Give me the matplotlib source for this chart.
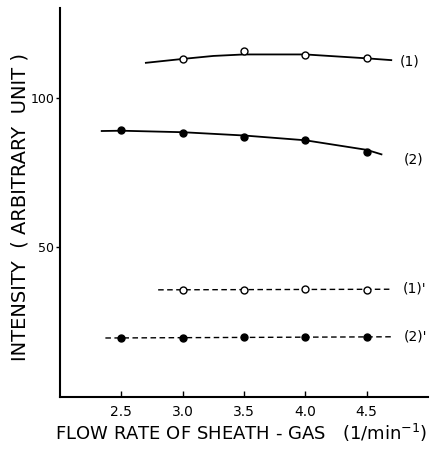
import matplotlib
matplotlib.use("Agg")
import matplotlib.pyplot as plt

# measured points
pts_x1 = [3.0, 3.5, 4.0, 4.5]
pts_y1 = [113.0, 115.7, 114.3, 113.3]
pts_x2 = [2.5, 3.0, 3.5, 4.0, 4.5]
pts_y2 = [89.2, 88.1, 86.8, 85.8, 82.0]
pts_x1p = [3.0, 3.5, 4.0, 4.5]
pts_y1p = [35.7, 35.9, 36.2, 35.9]
pts_x2p = [2.5, 3.0, 3.5, 4.0, 4.5]
pts_y2p = [19.6, 19.6, 20.1, 20.1, 20.1]

# hand-drawn curves
crv_x1 = [2.7, 3.0, 3.25, 3.5, 4.0, 4.5, 4.7]
crv_y1 = [111.7, 113.0, 114.0, 114.5, 114.5, 113.2, 112.6]
crv_x2 = [2.34, 2.5, 3.0, 3.5, 4.0, 4.5, 4.62]
crv_y2 = [88.9, 89.0, 88.5, 87.4, 85.8, 82.6, 81.1]
crv_x1p = [2.8, 4.7]
crv_y1p = [35.8, 36.0]
crv_x2p = [2.37, 4.7]
crv_y2p = [19.7, 20.1]

xticks = [2.5, 3.0, 3.5, 4.0, 4.5]
yticks = [50, 100]

fig = plt.figure(figsize=(4.30, 4.49), dpi=100)
ax = fig.add_axes([0.1395, 0.116, 0.856, 0.866])

lw = 1.3
ax.plot(crv_x1, crv_y1, color="black", lw=lw)
ax.plot(crv_x2, crv_y2, color="black", lw=lw)
ax.plot(crv_x1p, crv_y1p, color="black", lw=1.0, dashes=(4, 2.5))
ax.plot(crv_x2p, crv_y2p, color="black", lw=1.0, dashes=(4, 2.5))

ax.plot(pts_x1, pts_y1, "o", ms=5, mfc="white", mec="black", mew=1.0)
ax.plot(pts_x2, pts_y2, "o", ms=5, mfc="black", mec="black")
ax.plot(pts_x1p, pts_y1p, "o", ms=5, mfc="white", mec="black", mew=1.0)
ax.plot(pts_x2p, pts_y2p, "o", ms=5, mfc="black", mec="black")

lab = dict(fontsize=10, va="center", ha="left")
ax.text(4.77, 112.2, "(1)", **lab)
ax.text(4.80, 79.5, "(2)", **lab)
ax.text(4.79, 36.3, "(1)'", **lab)
ax.text(4.80, 20.1, "(2)'", **lab)

ax.set_xlim(2.0, 5.0)
ax.set_ylim(0, 130)
ax.set_xticks(xticks)
ax.set_xticklabels(["2.5", "3.0", "3.5", "4.0", "4.5"])
ax.set_yticks(yticks)
ax.tick_params(axis="x", direction="in", length=4, width=1, labelsize=10, pad=6)
ax.tick_params(axis="y", direction="out", length=3, width=1, labelsize=9, pad=1)

ax.spines["top"].set_visible(False)
ax.spines["right"].set_visible(False)
ax.spines["left"].set_linewidth(1.5)
ax.spines["bottom"].set_linewidth(1.5)

fig.text(0.561, 0.035, "FLOW RATE OF SHEATH - GAS   (1/min$^{-1}$)",
         ha="center", va="center", fontsize=13)
fig.text(0.046, 0.54, "INTENSITY  ( ARBITRARY  UNIT )", rotation=90,
         ha="center", va="center", fontsize=14)

fig.savefig("out.png", dpi=100)
